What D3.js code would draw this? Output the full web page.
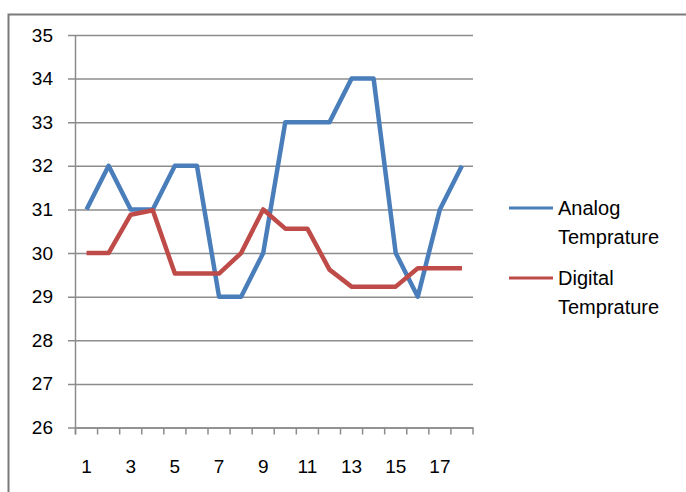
<!DOCTYPE html>
<html>
<head>
<meta charset="utf-8">
<script src="https://cdn.jsdelivr.net/npm/d3@7"></script>
<style>
  body { margin: 0; background: #fff; }
  svg text { font-family: "Liberation Sans", Arial, sans-serif; fill: #000; }
</style>
</head>
<body>
<div id="chart"></div>
<script>
// chart values
var days = [1, 2, 3, 4, 5, 6, 7, 8, 9, 10, 11, 12, 13, 14, 15, 16, 17, 18];
var analog = [31, 32, 31, 31, 32, 32, 29, 29, 30, 33, 33, 33, 34, 34, 30, 29, 31, 32];
var digital = [30, 30, 30.88, 30.98, 29.53, 29.53, 29.53, 30, 31, 30.56, 30.56, 29.62, 29.23, 29.23, 29.23, 29.65, 29.65, 29.65];
var seriesNames = [["Analog", "Temprature"], ["Digital", "Temprature"]];
var yTicks = [26, 27, 28, 29, 30, 31, 32, 33, 34, 35];
var xLabels = [1, 3, 5, 7, 9, 11, 13, 15, 17];

var width = 686, height = 492;
var colors = ["#4a7ebb", "#be4b48"];

var svg = d3.select('#chart').append('svg')
  .attr('width', width).attr('height', height);

// outer frame (only left and top edges visible)
svg.append('path')
  .attr('d', 'M8.5,' + height + 'V14.5H' + width)
  .attr('fill', 'none')
  .attr('stroke', '#7a7a7a')
  .attr('stroke-width', 2);

var x = d3.scaleBand().domain(days).range([75.5, 473]);
var y = d3.scaleLinear().domain([26, 35]).range([427.5, 35]);

// gridlines + y labels
var yAxis = d3.axisLeft(y).tickValues(yTicks).tickSize(-(473 - 68)).tickPadding(15);
var gy = svg.append('g').attr('transform', 'translate(68,0)').call(yAxis);
gy.select('.domain').remove();
gy.selectAll('line').attr('stroke', '#8c8c8c').attr('stroke-width', 1.5);
gy.selectAll('text').attr('font-size', 19).attr('x', -15);

// y axis line
svg.append('line')
  .attr('x1', 75.5).attr('x2', 75.5)
  .attr('y1', y(35)).attr('y2', y(26) + 7)
  .attr('stroke', '#8c8c8c').attr('stroke-width', 1.5);

// x axis ticks at band edges
var edges = days.map(function (d) { return x(d); }).concat([x(18) + x.bandwidth()]);
svg.selectAll('.xtick').data(edges).enter().append('line')
  .attr('class', 'xtick')
  .attr('x1', function (d) { return d; }).attr('x2', function (d) { return d; })
  .attr('y1', y(26)).attr('y2', y(26) + 7)
  .attr('stroke', '#8c8c8c').attr('stroke-width', 1.5);

// x labels
var xAxis = d3.axisBottom(x).tickValues(xLabels).tickSize(0).tickPadding(0);
var gx = svg.append('g').attr('transform', 'translate(0,' + y(26) + ')').call(xAxis);
gx.select('.domain').attr('stroke', '#8c8c8c').attr('stroke-width', 1.5);
gx.selectAll('text').attr('font-size', 19).attr('dy', null).attr('y', 45);

// series lines
var line = d3.line()
  .x(function (d, i) { return x(days[i]) + x.bandwidth() / 2; })
  .y(function (d) { return y(d); });

[analog, digital].forEach(function (s, i) {
  svg.append('path')
    .datum(s)
    .attr('d', line)
    .attr('fill', 'none')
    .attr('stroke', colors[i])
    .attr('stroke-width', 4.5)
    .attr('stroke-linejoin', 'round');
});

// legend
var legendY = [208, 278];
seriesNames.forEach(function (names, i) {
  var g = svg.append('g').attr('transform', 'translate(0,' + legendY[i] + ')');
  g.append('line')
    .attr('x1', 509).attr('x2', 553)
    .attr('stroke', colors[i]).attr('stroke-width', 3);
  g.selectAll('text').data(names).enter().append('text')
    .attr('x', 558)
    .attr('y', function (d, j) { return j * 29; })
    .attr('dy', '0.35em')
    .attr('font-size', 20)
    .text(function (d) { return d; });
});
</script>
</body>
</html>
